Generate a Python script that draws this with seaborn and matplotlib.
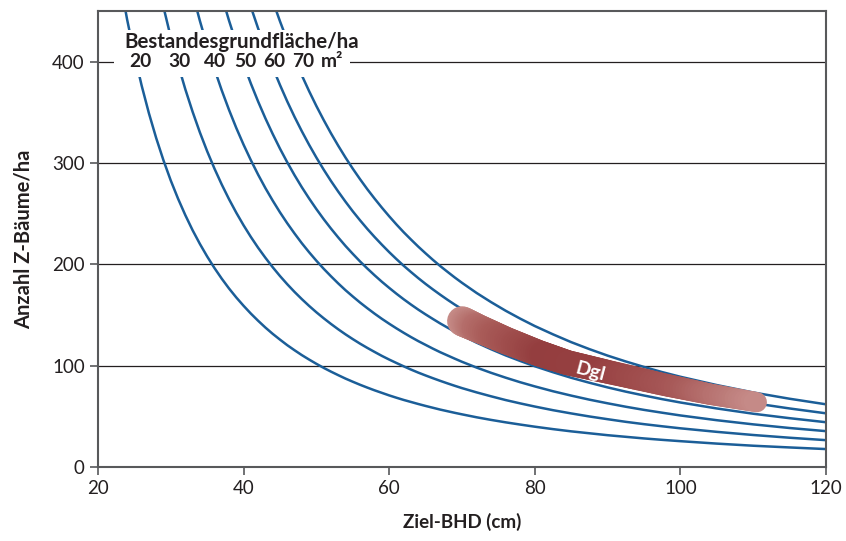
import matplotlib
matplotlib.use("Agg")
import matplotlib.pyplot as plt
import numpy as np
import pandas as pd
import seaborn as sns
from matplotlib.collections import LineCollection
from matplotlib.colors import LinearSegmentedColormap
from matplotlib.patches import Rectangle

# Ziel-BHD (cm) where the curves were read
bhd = list(range(23, 71)) + [72, 74, 76, 78, 80, 82.5, 85, 87.5, 90, 92.5, 95,
                             97.5, 100, 105, 110, 115, 120]
na = None
# Z-Baeume/ha (None = above the plot top)
n_g20 = [481.4, 442.1, 407.4, 376.7, 349.3, 324.8, 302.8, 282.9, 265.0, 248.7,
         233.8, 220.3, 207.9, 196.5, 186.0, 176.3, 167.4, 159.2, 151.5, 144.4,
         137.7, 131.5, 125.8, 120.3, 115.3, 110.5, 106.1, 101.9, 97.9, 94.2,
         90.7, 87.3, 84.2, 81.2, 78.4, 75.7, 73.2, 70.7, 68.4, 66.2,
         64.2, 62.2, 60.3, 58.5, 56.7, 55.1, 53.5, 52.0,
         49.1, 46.5, 44.1, 41.9, 39.8, 37.4, 35.2, 33.3, 31.4, 29.8, 28.2,
         26.8, 25.5, 23.1, 21.0, 19.3, 17.7]
n_g30 = [na, na, na, na, na, 487.2, 454.2, 424.4, 397.5, 373.0,
         350.8, 330.4, 311.8, 294.7, 279.0, 264.5, 251.1, 238.7, 227.2, 216.5,
         206.6, 197.3, 188.6, 180.5, 172.9, 165.8, 159.1, 152.8, 146.9, 141.3,
         136.0, 131.0, 126.3, 121.8, 117.6, 113.6, 109.7, 106.1, 102.7, 99.4,
         96.2, 93.2, 90.4, 87.7, 85.1, 82.6, 80.2, 77.9,
         73.7, 69.8, 66.1, 62.8, 59.7, 56.1, 52.9, 49.9, 47.2, 44.6, 42.3,
         40.2, 38.2, 34.7, 31.6, 28.9, 26.5]
n_g40 = [na, na, na, na, na, na, na, na, na, na,
         467.7, 440.6, 415.8, 393.0, 372.0, 352.7, 334.8, 318.3, 303.0, 288.7,
         275.4, 263.1, 251.5, 240.7, 230.6, 221.0, 212.1, 203.7, 195.8, 188.4,
         181.3, 174.6, 168.4, 162.4, 156.8, 151.4, 146.3, 141.5, 136.9, 132.5,
         128.3, 124.3, 120.6, 116.9, 113.4, 110.2, 107.0, 103.9,
         98.2, 93.0, 88.2, 83.7, 79.6, 74.8, 70.5, 66.5, 62.9, 59.5, 56.4,
         53.6, 50.9, 46.2, 42.1, 38.5, 35.4]
n_g50 = [na, na, na, na, na, na, na, na, na, na,
         na, na, na, na, 465.1, 440.9, 418.6, 397.9, 378.7, 360.9,
         344.3, 328.9, 314.4, 300.9, 288.2, 276.3, 265.2, 254.7, 244.8, 235.5,
         226.7, 218.3, 210.5, 203.0, 196.0, 189.3, 182.9, 176.9, 171.1, 165.6,
         160.4, 155.4, 150.7, 146.2, 141.8, 137.7, 133.7, 129.9,
         122.8, 116.3, 110.2, 104.7, 99.5, 93.6, 88.1, 83.2, 78.6, 74.4, 70.6,
         67.0, 63.7, 57.8, 52.6, 48.2, 44.2]
n_g60 = [na, na, na, na, na, na, na, na, na, na,
         na, na, na, na, na, na, na, na, 454.4, 433.1,
         413.2, 394.6, 377.3, 361.0, 345.8, 331.6, 318.2, 305.6, 293.7, 282.5,
         272.0, 262.0, 252.5, 243.6, 235.1, 227.1, 219.5, 212.2, 205.3, 198.7,
         192.5, 186.5, 180.8, 175.4, 170.2, 165.2, 160.4, 155.9,
         147.4, 139.5, 132.2, 125.6, 119.3, 112.3, 105.7, 99.8, 94.3, 89.3, 84.7,
         80.3, 76.4, 69.3, 63.1, 57.8, 53.0]
n_g70 = [na, na, na, na, na, na, na, na, na, na,
         na, na, na, na, na, na, na, na, na, na,
         na, 460.4, 440.2, 421.2, 403.5, 386.8, 371.2, 356.5, 342.7, 329.6,
         317.3, 305.6, 294.6, 284.2, 274.3, 265.0, 256.1, 247.6, 239.5, 231.8,
         224.6, 217.6, 211.0, 204.6, 198.5, 192.8, 187.2, 181.9,
         171.9, 162.8, 154.3, 146.5, 139.2, 131.0, 123.3, 116.4, 110.0, 104.2, 98.8,
         93.7, 89.1, 80.9, 73.6, 67.4, 61.9]
basal_area = ["20", "30", "40", "50", "60", "70"]

# Dgl band (centre line)
dgl_bhd = [70, 72, 76, 80.5, 84.5, 90, 98, 104, 110.5]
dgl_n = [144, 137.5, 125, 112.5, 103, 94, 81, 72, 64]

blue = "#1b5e98"
dark = "#231f20"
spine_col = "#58595b"

curves = [n_g20, n_g30, n_g40, n_g50, n_g60, n_g70]
rows = []
for g, vals in zip(basal_area, curves):
    assert len(vals) == len(bhd)
    for x, y in zip(bhd, vals):
        if y is not None:
            rows.append({"bhd": x, "n": y, "G": g})
df = pd.DataFrame(rows)

sns.set_theme(style="white")
plt.rcParams["font.family"] = ["Lato", "DejaVu Sans"]

fig = plt.figure(figsize=(8.46, 5.41), dpi=100)
ax = fig.add_axes([0.1158, 0.1368, 0.8606, 0.8422])

sns.lineplot(data=df, x="bhd", y="n", hue="G", palette=[blue] * 6,
             estimator=None, sort=False, legend=False, lw=1.8, ax=ax, zorder=2)

# Dgl band: brush stroke, darker in the middle, tapering to the right
cmap = LinearSegmentedColormap.from_list(
    "dgl", ["#c68c88", "#a95b58", "#943e3f", "#963f40", "#a85a59", "#c58a87"])
px, py = [], []
for i in range(len(dgl_bhd) - 1):
    px.extend(np.linspace(dgl_bhd[i], dgl_bhd[i + 1], 15, endpoint=False))
    py.extend(np.linspace(dgl_n[i], dgl_n[i + 1], 15, endpoint=False))
px.append(dgl_bhd[-1])
py.append(dgl_n[-1])
pts = np.column_stack([px, py])
segs = np.stack([pts[:-1], pts[1:]], axis=1)
t = np.linspace(0, 1, len(segs))
widths = 21.5 - 7 * t
lc = LineCollection(segs, colors=cmap(t), linewidths=widths, capstyle="round",
                    joinstyle="round", zorder=3)
ax.add_collection(lc)
ax.text(87.6, 94.5, "Dgl", color="white", fontsize=14, fontweight="bold",
        rotation=-15, ha="center", va="center", zorder=4)

# header block
ax.add_patch(Rectangle((0.022, 0.856), 0.324, 0.103, transform=ax.transAxes,
                       facecolor="white", edgecolor="none", zorder=5))
ax.text(39.7, 420, "Bestandesgrundfläche/ha", fontsize=14.8, fontweight="bold",
        color=dark, ha="center", va="center", zorder=6)
label_x = [25.84, 31.13, 36.14, 40.26, 44.18, 48.16]
for lx, lab in zip(label_x, basal_area):
    ax.text(lx, 400, lab, fontsize=13.8, fontweight="bold", color=dark,
            ha="center", va="center", zorder=6)
ax.text(52.2, 400, "m²", fontsize=13.8, fontweight="bold", color=dark,
        ha="center", va="center", zorder=6)

ax.set_xlim(20, 120)
ax.set_ylim(0, 450)
ax.set_xticks([20, 40, 60, 80, 100, 120])
ax.set_yticks([0, 100, 200, 300, 400])
ax.yaxis.grid(True, color=dark, lw=0.9)
ax.set_axisbelow(True)
for s in ax.spines.values():
    s.set_color(spine_col)
    s.set_linewidth(1.5)
ax.tick_params(axis="both", direction="out", length=6, width=1.2,
               color=spine_col, labelcolor=dark, labelsize=13.5,
               bottom=True, left=True)
ax.set_xlabel("Ziel-BHD (cm)", fontsize=13.5, fontweight="bold", color=dark,
              labelpad=11)
ax.set_ylabel("Anzahl Z-Bäume/ha", fontsize=14.5, fontweight="bold", color=dark,
              labelpad=13)

fig.savefig("out.png", dpi=100)
